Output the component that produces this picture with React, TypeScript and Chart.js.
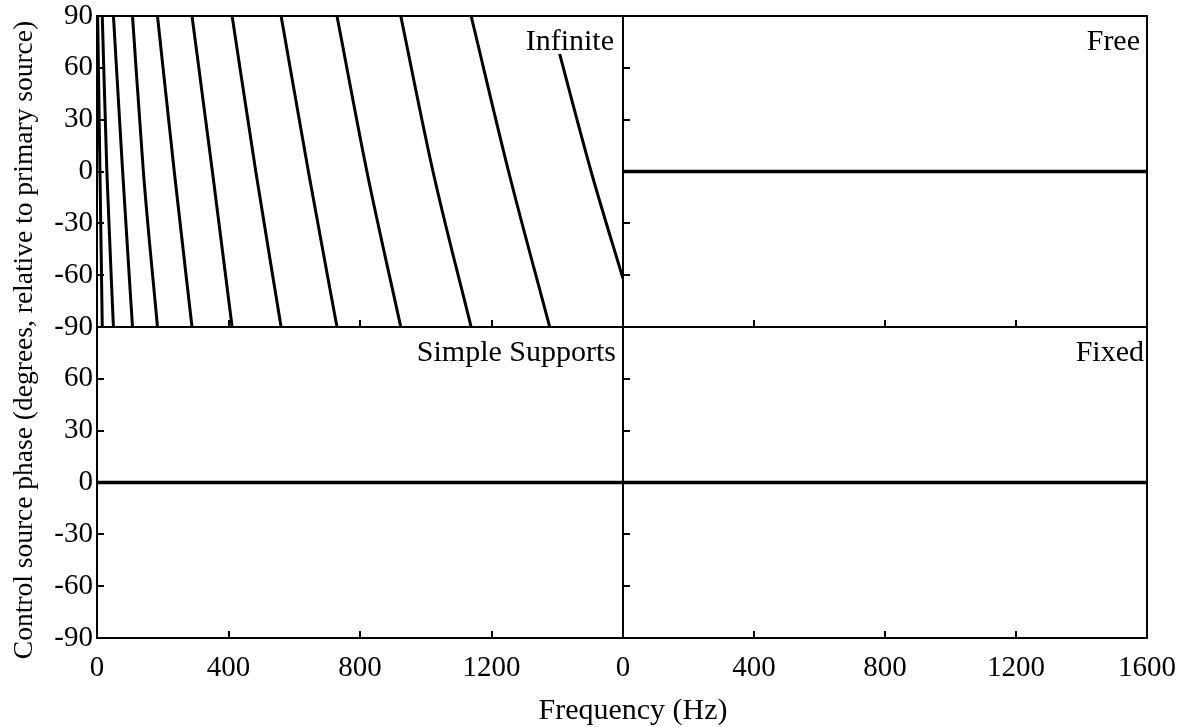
import React, { useEffect, useRef } from "react";
import { Chart, registerables } from "chart.js";

Chart.register(...registerables);

const W = 1199;
const H = 727;
const FONT = "'Liberation Serif', 'Times New Roman', serif";

// axes
const FREQ_MIN = 0;
const FREQ_MAX = 1600;
const FREQ_STEP = 400;
const PHASE_MIN = -90;
const PHASE_MAX = 90;
const PHASE_STEP = 30;

// Infinite panel: frequencies (Hz) where phase wraps from -90 to +90,
// and where each descending branch crosses 0 degrees
const infiniteWrapFreqs = [2, 16, 50, 108, 184, 289, 411, 560, 730, 924, 1138, 1377];
const infiniteZeroFreqs = [9, 30, 78, 141, 235, 351, 483, 643, 821, 1022, 1252, 1503];
const infiniteEndPhase = -62;

// other panels (flat at 0 degrees)
const freeFreqs = [0, 1600];
const freePhase = [0, 0];
const simpleFreqs = [0, 1600];
const simplePhase = [0, 0];
const fixedFreqs = [0, 1600];
const fixedPhase = [0, 0];

const AXIS_TITLE_X = "Frequency (Hz)";
const AXIS_TITLE_Y = "Control source phase (degrees, relative to primary source)";

type Pt = { x: number; y: number | null };

function buildInfinite(): Pt[] {
  const pts: Pt[] = [];
  for (let i = 0; i < infiniteWrapFreqs.length; i++) {
    pts.push({ x: infiniteWrapFreqs[i], y: PHASE_MAX });
    pts.push({ x: infiniteZeroFreqs[i], y: 0 });
    if (i < infiniteWrapFreqs.length - 1) {
      pts.push({ x: infiniteWrapFreqs[i + 1], y: PHASE_MIN });
      pts.push({ x: infiniteWrapFreqs[i + 1], y: null });
    } else {
      pts.push({ x: FREQ_MAX, y: infiniteEndPhase });
    }
  }
  return pts;
}

function zip(xs: number[], ys: number[]): Pt[] {
  return xs.map((x, i) => ({ x, y: ys[i] }));
}

type PanelCfg = {
  name: string;
  rect: { left: number; top: number; right: number; bottom: number };
  labelInset: number;
  xLabels: boolean;
  yLabels: boolean;
  skipY90: boolean;
  skipX1600: boolean;
  data: Pt[];
  lineWidth: number;
  titles: boolean;
};

const Y_AXIS_W = 60;
const X_AXIS_H = 50;

const panels: PanelCfg[] = [
  {
    name: "Infinite",
    rect: { left: 97, top: 16, right: 623, bottom: 327 },
    labelInset: 9,
    xLabels: false, yLabels: true, skipY90: false, skipX1600: false,
    data: buildInfinite(), lineWidth: 3, titles: true,
  },
  {
    name: "Free",
    rect: { left: 623, top: 16, right: 1147, bottom: 327 },
    labelInset: 7,
    xLabels: false, yLabels: false, skipY90: false, skipX1600: false,
    data: zip(freeFreqs, freePhase), lineWidth: 3.5, titles: false,
  },
  {
    name: "Simple Supports",
    rect: { left: 97, top: 327, right: 623, bottom: 638 },
    labelInset: 7,
    xLabels: true, yLabels: true, skipY90: true, skipX1600: true,
    data: zip(simpleFreqs, simplePhase), lineWidth: 3.5, titles: false,
  },
  {
    name: "Fixed",
    rect: { left: 623, top: 327, right: 1147, bottom: 638 },
    labelInset: 3,
    xLabels: true, yLabels: false, skipY90: false, skipX1600: false,
    data: zip(fixedFreqs, fixedPhase), lineWidth: 3.5, titles: false,
  },
];

function Panel({ cfg }: { cfg: PanelCfg }) {
  const ref = useRef<HTMLCanvasElement | null>(null);
  useEffect(() => {
    if (!ref.current) return;
    const r = cfg.rect;
    const decorPlugin = {
      id: "decor" + cfg.name.replace(/\s/g, ""),
      afterDatasetsDraw(chart: any) {
        const ctx = chart.ctx;
        const a = chart.chartArea;
        ctx.save();
        ctx.font = `30px ${FONT}`;
        ctx.textAlign = "right";
        ctx.textBaseline = "alphabetic";
        const tx = a.right - cfg.labelInset;
        const ty = a.top + 34;
        const w = ctx.measureText(cfg.name).width;
        ctx.fillStyle = "#ffffff";
        ctx.fillRect(tx - w - 4, a.top + 1, w + 8, 37);
        ctx.fillStyle = "#000000";
        ctx.fillText(cfg.name, tx, ty);
        ctx.restore();
      },
      afterDraw(chart: any) {
        const ctx = chart.ctx;
        const a = chart.chartArea;
        const xs = chart.scales.x;
        const ys = chart.scales.y;
        ctx.save();
        ctx.strokeStyle = "#000000";
        ctx.lineWidth = 2;
        ctx.strokeRect(a.left, a.top, a.right - a.left, a.bottom - a.top);
        ctx.beginPath();
        for (let v = FREQ_MIN + FREQ_STEP; v < FREQ_MAX; v += FREQ_STEP) {
          const px = Math.round(xs.getPixelForValue(v));
          ctx.moveTo(px, a.bottom);
          ctx.lineTo(px, a.bottom - 7);
        }
        for (let v = PHASE_MIN + PHASE_STEP; v < PHASE_MAX; v += PHASE_STEP) {
          const py = Math.round(ys.getPixelForValue(v));
          ctx.moveTo(a.left, py);
          ctx.lineTo(a.left + 7, py);
        }
        ctx.stroke();
        if (cfg.titles) {
          ctx.fillStyle = "#000000";
          ctx.font = `30px ${FONT}`;
          ctx.textAlign = "center";
          ctx.textBaseline = "alphabetic";
          ctx.fillText(AXIS_TITLE_X, 633, 719);
          ctx.font = `27.5px ${FONT}`;
          ctx.translate(25, 340);
          ctx.rotate(-Math.PI / 2);
          ctx.textBaseline = "middle";
          ctx.fillText(AXIS_TITLE_Y, 0, 0);
        }
        ctx.restore();
      },
    };

    const chart = new Chart(ref.current, {
      type: "line",
      data: {
        datasets: [
          {
            data: cfg.data as any,
            borderColor: "#000000",
            borderWidth: cfg.lineWidth,
            pointRadius: 0,
            cubicInterpolationMode: "monotone",
            spanGaps: false,
            fill: false,
          },
        ],
      },
      options: {
        responsive: false,
        animation: false,
        events: [],
        layout: {
          padding: {
            left: r.left - Y_AXIS_W,
            top: r.top,
            right: W - r.right,
            bottom: H - r.bottom - X_AXIS_H,
          },
        },
        plugins: {
          legend: { display: false },
          tooltip: { enabled: false },
        },
        scales: {
          x: {
            type: "linear",
            min: FREQ_MIN,
            max: FREQ_MAX,
            grid: { display: false, drawTicks: false },
            border: { display: false },
            ticks: {
              display: cfg.xLabels,
              stepSize: FREQ_STEP,
              autoSkip: false,
              maxRotation: 0,
              padding: 13,
              color: "#000000",
              font: { family: FONT, size: 29 },
              callback: (v: any) => (cfg.skipX1600 && v === FREQ_MAX ? "" : String(v)),
            },
            afterFit: (s: any) => {
              s.height = X_AXIS_H;
              s.paddingLeft = 0;
              s.paddingRight = 0;
              s.paddingTop = 0;
              s.paddingBottom = 0;
            },
          },
          y: {
            type: "linear",
            min: PHASE_MIN,
            max: PHASE_MAX,
            grid: { display: false, drawTicks: false },
            border: { display: false },
            ticks: {
              display: cfg.yLabels,
              stepSize: PHASE_STEP,
              autoSkip: false,
              padding: 4,
              color: "#000000",
              font: { family: FONT, size: 29 },
              callback: (v: any) => (cfg.skipY90 && v === PHASE_MAX ? "" : String(v)),
            },
            afterFit: (s: any) => {
              s.width = Y_AXIS_W;
              s.paddingLeft = 0;
              s.paddingRight = 0;
              s.paddingTop = 0;
              s.paddingBottom = 0;
            },
          },
        },
      } as any,
      plugins: [decorPlugin],
    });
    return () => chart.destroy();
  }, [cfg]);
  return (
    <canvas
      ref={ref}
      width={W}
      height={H}
      style={{ position: "absolute", left: 0, top: 0, width: W, height: H }}
    />
  );
}

export default function App() {
  return (
    <div
      style={{
        position: "absolute",
        left: 0,
        top: 0,
        width: W,
        height: H,
        background: "#ffffff",
        overflow: "hidden",
      }}
    >
      {panels.map((p) => (
        <Panel key={p.name} cfg={p} />
      ))}
    </div>
  );
}
